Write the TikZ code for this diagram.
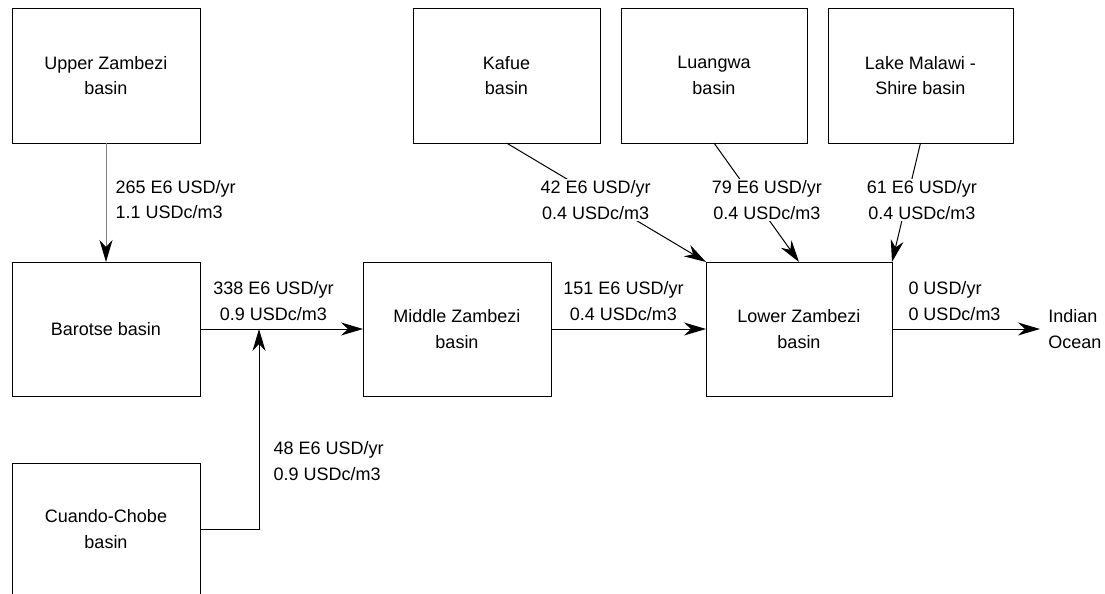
\documentclass[tikz,border=0pt]{standalone}
\usepackage{fontspec}
\setmainfont{Liberation Sans}
\usepackage{tikz}
\usetikzlibrary{arrows.meta}
\tikzset{
 flow tip/.style={-{Stealth[length=11pt,width=6.5pt,inset=3.5pt,black]}}
}
\tikzstyle{basin}=[draw, line width=.5pt, inner sep=0pt, outer sep=0pt, align=center, minimum width=94pt, minimum height=67pt]
\tikzstyle{flow}=[line width=.5pt, flow tip]
\tikzstyle{cost}=[align=center, inner sep=1pt]
\tikzstyle{costl}=[align=left, inner sep=1pt]
\begin{document}
\begin{tikzpicture}[x=.5pt, y=-.5pt, font=\fontsize{9}{12.75}\selectfont]
 \useasboundingbox (0,0) rectangle (1105,594);
%
 \node[basin, minimum height=67.5pt] (upper) at (106,75.5) {Upper Zambezi\\basin};
 \node[basin] (barotse) at (106,329) {Barotse basin};
 \node[basin, minimum height=66pt] (cuando) at (106,529) {Cuando-Chobe\\basin};
 \node[basin] (middle) at (457,329) {Middle Zambezi\\basin};
 \node[basin, minimum width=93pt] (lower) at (799,329) {Lower Zambezi\\basin};
 \node[basin, minimum width=93.5pt, minimum height=67.5pt] (kafue) at (506.5,75.5) {Kafue\\basin};
 \node[basin, minimum width=93pt, minimum height=67.5pt] (luangwa) at (714,75.5) {Luangwa\\basin};
 \node[basin, minimum width=92.5pt, minimum height=67.5pt] (malawi) at (920.5,75.5) {Lake Malawi -\\Shire basin};
 \node[anchor=west, align=left, inner sep=4pt] (ocean) at (1040,329) {Indian\\Ocean};
 \coordinate (jn) at (259,329);
%
 \draw[flow, draw=gray] (upper) -- node[right, costl, xshift=3.5pt, yshift=1.5pt]{265 E6 USD/yr\\1.1 USDc/m3} (barotse);
 \draw[flow] (barotse) -- node[above, cost, xshift=-4pt, yshift=3pt]{338 E6 USD/yr\\0.9 USDc/m3} (middle);
 \draw[flow] (cuando) -| node[right, costl, pos=.67, xshift=6pt]{48 E6 USD/yr\\0.9 USDc/m3} (jn);
 \draw[flow] (middle) -- node[above, cost, xshift=-2.5pt, yshift=3pt]{151 E6 USD/yr\\0.4 USDc/m3} (lower);
 \draw[flow] (lower) -- node[above right, costl, pos=0, xshift=7pt, yshift=3pt]{0 USD/yr\\0 USDc/m3} (ocean.west);
%
 \draw[flow] (kafue.south) -- node[cost, fill=white, pos=.48, xshift=-3.3pt]{42 E6 USD/yr\\0.4 USDc/m3} (lower.north west);
 \draw[flow] (luangwa.south) -- node[cost, fill=white, pos=.48, xshift=6pt]{79 E6 USD/yr\\0.4 USDc/m3} (lower.north);
 \draw[flow] (malawi.south) -- node[cost, fill=white, pos=.48, xshift=7.5pt]{61 E6 USD/yr\\0.4 USDc/m3} (lower.north east);
\end{tikzpicture}
\end{document}
